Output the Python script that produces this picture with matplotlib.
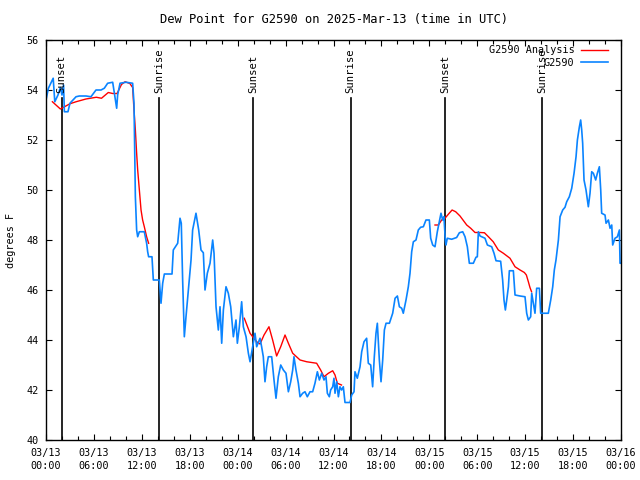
import matplotlib
matplotlib.use('Agg')
import matplotlib.pyplot as plt
import matplotlib.dates as mdates
import pandas as pd

nan = float('nan')

# start of the plotted period (UTC)
start = pd.Timestamp('2025-03-13 00:00')

# station observations: hours after start, dew point (F)
obs_hours = [0.0, 0.3, 0.9, 1.1, 1.5, 1.8, 2.0, 2.2, 2.3, 2.75, 3.0, 3.76, 4.17, 5.01, 5.63,
             6.26, 6.89, 7.30, 7.72, 8.35, 8.56, 8.85, 8.97, 9.27, 10.02, 10.85, 11.02, 11.10,
             11.19, 11.35, 11.48, 11.69, 12.31, 12.60, 12.73, 12.85, 13.27, 13.44, 14.19, 14.40,
             14.61, 14.82, 15.78, 15.94, 16.49, 16.78, 16.94, 17.11, 17.32, 17.53, 17.86, 18.16,
             18.36, 18.78, 19.12, 19.41, 19.70, 19.91, 20.20, 20.54, 20.87, 21.04, 21.29, 21.58,
             21.79, 22.0, 22.21, 22.54, 22.83, 23.13, 23.46, 23.79, 23.96, 24.21, 24.50, 24.71,
             25.05, 25.34, 25.55, 25.88, 26.17, 26.38, 26.80, 27.0, 27.21, 27.42, 27.63, 27.84,
             28.26, 28.55, 28.80, 29.09, 29.39, 29.72, 30.05, 30.35, 30.64, 30.89, 31.05, 31.30,
             31.60, 31.81, 32.14, 32.43, 32.72, 33.06, 33.39, 33.68, 33.98, 34.23, 34.52, 34.81,
             35.06, 35.23, 35.48, 35.64, 35.90, 36.06, 36.19, 36.40, 36.61, 36.81, 37.02, 37.23,
             37.44, 38.07, 38.28, 38.57, 38.69, 38.98, 39.32, 39.53, 39.82, 40.15, 40.36, 40.66,
             40.90, 41.11, 41.32, 41.49, 41.74, 41.95, 42.16, 42.37, 42.58, 43.0, 43.41, 43.71,
             44.0, 44.25, 44.54, 44.74, 45.08, 45.37, 45.58, 45.79, 46.0, 46.33, 46.62, 46.91,
             47.25, 47.58, 48.0, 48.17, 48.42, 48.71, 49.0, 49.21, 49.46, 49.67, 49.83, 50.0,
             50.08, 50.25, 50.80, 51.42, 51.76, 52.18, 52.47, 52.76, 53.01, 53.51, 53.84, 54.01,
             54.14, 54.35, 54.97, 55.27, 55.81, 56.10, 56.35, 56.93, 57.18, 57.35, 57.52, 57.69,
             57.90, 58.02, 58.52, 58.73, 59.36, 59.98, 60.19, 60.40, 60.69, 60.82, 61.02, 61.23,
             61.44, 61.78, 61.94, 62.90, 63.20, 63.45, 63.65, 63.86, 64.16, 64.37, 64.70, 64.99,
             65.20, 65.53, 65.83, 66.12, 66.37, 66.54, 66.79, 66.95, 67.08, 67.20, 67.37, 67.62,
             67.79, 67.91, 68.12, 68.33, 68.54, 68.83, 69.04, 69.29, 69.46, 69.58, 70.0, 70.13,
             70.42, 70.63, 70.84, 70.96, 71.25, 71.55, 71.80, 71.88, 72.0]
obs_dewpt = [53.6, 54.07, 54.47, 53.53, 53.8, 54.1, 53.8, 54.2, 53.13, 53.13, 53.47, 53.73, 53.76,
             53.76, 53.73, 54.0, 54.0, 54.07, 54.27, 54.31, 53.87, 53.27, 53.8, 54.27, 54.31, 54.27,
             53.47, 51.6, 49.73, 48.4, 48.13, 48.33, 48.33, 47.87, 47.53, 47.33, 47.33, 46.4, 46.4,
             45.47, 46.27, 46.64, 46.64, 47.6, 47.87, 48.87, 48.67, 46.4, 44.13, 44.93, 46.13, 47.2,
             48.4, 49.07, 48.4, 47.6, 47.49, 46.0, 46.67, 47.07, 48.0, 47.47, 45.33, 44.4, 45.33,
             43.87, 45.2, 46.13, 45.87, 45.33, 44.13, 44.8, 43.87, 44.53, 45.53, 44.53, 44.13, 43.47,
             43.13, 43.73, 44.27, 43.73, 44.07, 43.73, 43.33, 42.33, 42.93, 43.33, 43.33, 42.4,
             41.67, 42.53, 43.0, 42.8, 42.67, 41.93, 42.33, 42.8, 43.33, 42.8, 42.27, 41.73, 41.87,
             41.93, 41.73, 41.93, 41.93, 42.27, 42.73, 42.4, 42.67, 42.4, 42.53, 41.87, 41.73, 42.0,
             42.13, 42.47, 41.87, 42.33, 41.73, 42.13, 42.0, 42.13, 41.5, 41.5, 41.8, 41.93, 42.73,
             42.47, 42.93, 43.53, 43.93, 44.07, 43.07, 43.0, 42.13, 43.33, 44.27, 44.67, 43.2, 42.33,
             43.2, 44.4, 44.67, 44.67, 45.07, 45.67, 45.76, 45.33, 45.27, 45.07, 45.6, 46.13, 46.67,
             47.53, 47.93, 48.0, 48.4, 48.51, 48.53, 48.8, 48.8, 48.07, 47.8, 47.73, 48.33, 48.67,
             49.07, 48.8, 48.93, 48.0, 47.8, 48.07, 48.03, 48.1, 48.29, 48.33, 48.13, 47.73, 47.07,
             47.07, 47.31, 47.33, 48.33, 48.16, 48.07, 47.8, 47.73, 47.47, 47.17, 47.15, 46.4, 45.6,
             45.2, 45.6, 46.13, 46.77, 46.77, 45.8, 45.76, 45.73, 45.07, 44.8, 44.93, 45.87, 45.47,
             45.07, 46.07, 46.07, 45.07, 45.07, 45.6, 46.13, 46.8, 47.2, 48.0, 48.93, 49.2, 49.31,
             49.53, 49.73, 50.07, 50.67, 51.33, 52.0, 52.53, 52.8, 52.4, 51.87, 50.4, 50.0, 49.6,
             49.33, 49.87, 50.73, 50.67, 50.4, 50.67, 50.93, 50.0, 49.07, 49.0, 48.67, 48.8, 48.47,
             48.6, 47.8, 48.07, 48.13, 48.4, 47.07, 47.07]

# analysis values (gaps where no analysis is available)
ana_hours = [0.8, 1.8, 3.0, 3.76, 5.0, 6.3, 6.95, 7.8, 8.35, 8.9, 9.45, 9.9, 10.5, 10.85, 10.98,
             11.19, 11.35, 11.48, 11.69, 11.9, 12.1, 12.31, 12.6, 12.85, 18.0,
             24.83, 25.55, 25.88, 26.38, 26.8, 27.3, 27.92, 28.38, 28.88, 29.39, 29.93, 30.35,
             30.89, 31.81, 32.64, 33.89, 34.39, 34.81, 35.36, 35.9, 36.19, 36.48, 37.0, 43.0,
             48.71, 49.13, 49.54, 49.96, 50.38, 50.85, 51.3, 51.84, 52.68, 53.18, 53.72, 54.35,
             54.9, 55.4, 56.0, 56.64, 57.27, 58.1, 58.73, 59.36, 59.9, 60.15, 60.4, 60.6, 60.8]
ana_dewpt = [53.53, 53.24, 53.45, 53.53, 53.64, 53.71, 53.67, 53.9, 53.86, 53.86, 54.22, 54.33,
             54.26, 54.1, 53.4, 52.4, 51.47, 50.8, 50.0, 49.2, 48.8, 48.53, 48.13, 47.87, nan,
             44.87, 44.27, 44.13, 43.93, 43.84, 44.2, 44.53, 44.0, 43.36, 43.73, 44.2, 43.87,
             43.47, 43.2, 43.13, 43.07, 42.8, 42.53, 42.67, 42.77, 42.6, 42.27, 42.2, nan,
             48.6, 48.6, 48.8, 48.87, 49.03, 49.2, 49.13, 48.96, 48.6, 48.47, 48.3, 48.3,
             48.29, 48.13, 47.93, 47.6, 47.47, 47.27, 46.93, 46.8, 46.7, 46.6, 46.33, 46.1, 45.93]

sunset_hours = [1.95, 25.97, 50.0]
sunrise_hours = [14.15, 38.13, 62.15]


def to_time(hours):
    return start + pd.to_timedelta(hours, unit='h')


plt.rcParams['font.family'] = 'DejaVu Sans Mono'
plt.rcParams['font.size'] = 7.3

fig = plt.figure(figsize=(6.4, 4.8), dpi=100)
ax = fig.add_axes([46 / 640, 40 / 480, 575 / 640, 400 / 480])

# sunrise / sunset markers
line_top = 0.855
for h in sunset_hours:
    t = to_time([h])[0]
    ax.axvline(t, ymin=0, ymax=line_top, color='black', lw=1.2)
    ax.text(t, line_top + 0.012, 'Sunset', rotation=90, ha='center', va='bottom',
            transform=ax.get_xaxis_transform(), fontsize=7.6)
for h in sunrise_hours:
    t = to_time([h])[0]
    ax.axvline(t, ymin=0, ymax=line_top, color='black', lw=1.2)
    ax.text(t, line_top + 0.012, 'Sunrise', rotation=90, ha='center', va='bottom',
            transform=ax.get_xaxis_transform(), fontsize=7.6)

ax.plot(to_time(ana_hours), ana_dewpt, color='#ff0000', lw=1.0, label='G2590 Analysis')
ax.plot(to_time(obs_hours), obs_dewpt, color='#0a84ff', lw=1.2, label='G2590')

ax.set_xlim(start, start + pd.Timedelta(hours=72))
ax.set_ylim(40, 56)
ax.set_yticks(range(40, 57, 2))

ax.xaxis.set_major_locator(mdates.HourLocator(byhour=[0, 6, 12, 18]))
ax.xaxis.set_minor_locator(mdates.HourLocator(byhour=range(0, 24, 2)))
ax.xaxis.set_major_formatter(mdates.DateFormatter('%m/%d\n%H:%M'))
for lbl in ax.get_xticklabels():
    lbl.set_linespacing(1.35)

ax.tick_params(which='both', direction='in', top=True, right=True, width=0.8)
ax.tick_params(which='major', length=4.5)
ax.tick_params(which='minor', length=3)
ax.tick_params(axis='x', which='major', pad=6)
ax.tick_params(axis='y', which='major', pad=5)
for s in ax.spines.values():
    s.set_linewidth(1.0)

ax.set_ylabel('degrees F', labelpad=8)
ax.set_title('Dew Point for G2590 on 2025-Mar-13 (time in UTC)', pad=12)

ax.legend(loc='upper right', bbox_to_anchor=(1 - 8 / 575, 1), frameon=False,
          markerfirst=False, handlelength=2.7, handletextpad=0.6, labelspacing=0.25,
          borderaxespad=0.2, borderpad=0.3)

fig.savefig('out.png', dpi=100)
